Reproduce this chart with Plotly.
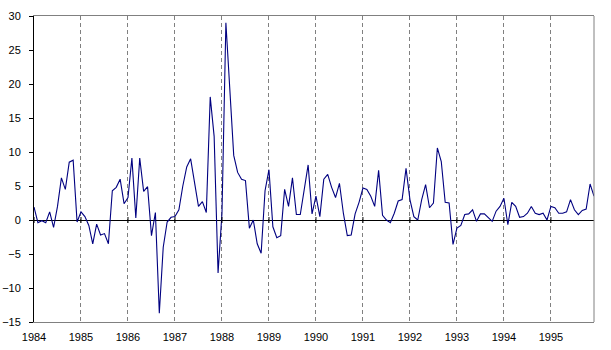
import plotly.graph_objects as go

# Monthly series, January 1984 through December 1995
start_year = 1984
values = [
    # 1984
    1.9, -0.4, -0.1, -0.4, 1.2, -1.1, 2.0, 6.2, 4.5, 8.5, 8.8, -0.3,
    # 1985
    1.2, 0.5, -0.8, -3.5, -0.6, -2.2, -2.0, -3.5, 4.3, 4.8, 6.0, 2.4,
    # 1986
    3.3, 9.1, 0.3, 9.1, 4.2, 4.9, -2.3, 1.1, -13.7, -4.0, -0.3, 0.4,
    # 1987
    0.5, 1.5, 5.0, 7.8, 9.0, 5.5, 2.0, 2.7, 1.1, 18.1, 12.3, -7.8,
    # 1988
    1.0, 29.0, 19.5, 9.5, 7.0, 6.0, 5.8, -1.2, 0.0, -3.5, -4.9, 4.3,
    # 1989
    7.4, -1.0, -2.6, -2.3, 4.5, 2.0, 6.2, 0.8, 0.8, 4.5, 8.1, 0.9,
    # 1990
    3.5, 0.5, 6.0, 6.7, 4.8, 3.3, 5.4, 1.0, -2.3, -2.2, 0.9, 2.6,
    # 1991
    4.7, 4.5, 3.5, 2.0, 7.3, 0.7, 0.0, -0.4, 1.0, 2.8, 3.0, 7.6,
    # 1992
    3.0, 0.5, 0.0, 3.0, 5.2, 1.8, 2.5, 10.6, 8.6, 2.6, 2.5, -3.6,
    # 1993
    -1.2, -0.8, 0.8, 0.9, 1.5, -0.2, 0.9, 0.9, 0.3, -0.2, 1.3, 2.0,
    # 1994
    3.2, -0.7, 2.6, 2.0, 0.4, 0.5, 1.0, 2.0, 1.0, 0.8, 1.0, 0.0,
    # 1995
    2.0, 1.8, 1.0, 1.0, 1.2, 3.0, 1.5, 0.8, 1.4, 1.6, 5.3, 3.5,
]
year_ticks = list(range(1984, 1996))
year_labels = [str(y) for y in year_ticks]
y_ticks = list(range(-15, 31, 5))

months = [start_year + i / 12 for i in range(len(values))]

fig = go.Figure()
fig.add_trace(go.Scatter(
    x=months, y=values, mode="lines",
    line=dict(color="#000080", width=1.1),
    hoverinfo="skip", showlegend=False,
))

# small crossing ticks where each year meets the zero line
for yr in year_ticks:
    fig.add_shape(
        type="line", xref="x", yref="y", x0=yr, x1=yr,
        ysizemode="pixel", yanchor=0, y0=-3, y1=3,
        line=dict(color="black", width=1), layer="above",
    )

# right-hand frame edge
fig.add_shape(type="line", xref="paper", yref="paper", x0=1, x1=1, y0=0, y1=1,
              line=dict(color="#808080", width=1), layer="above")

font = dict(family="Liberation Sans, Arial, sans-serif", size=11, color="black")

fig.update_layout(
    width=611, height=350,
    margin=dict(l=34, r=17, t=16, b=28),
    paper_bgcolor="white", plot_bgcolor="white",
    font=font,
    xaxis=dict(
        range=[months[0], months[-1]],
        tickvals=year_ticks, ticktext=year_labels,
        showgrid=True, gridcolor="#808080", gridwidth=1, griddash="4px,3px",
        showline=True, linecolor="#808080", linewidth=1, mirror=True,
        ticks="", zeroline=False, tickfont=font, ticklabelstandoff=5,
        automargin=False,
    ),
    yaxis=dict(
        range=[-15, 30], tickvals=y_ticks,
        showgrid=False,
        zeroline=True, zerolinecolor="black", zerolinewidth=1,
        showline=True, linecolor="black", linewidth=1,
        ticks="outside", ticklen=4, tickcolor="black",
        tickfont=font, ticklabelstandoff=6, automargin=False,
    ),
)

fig.write_html("out.html")
